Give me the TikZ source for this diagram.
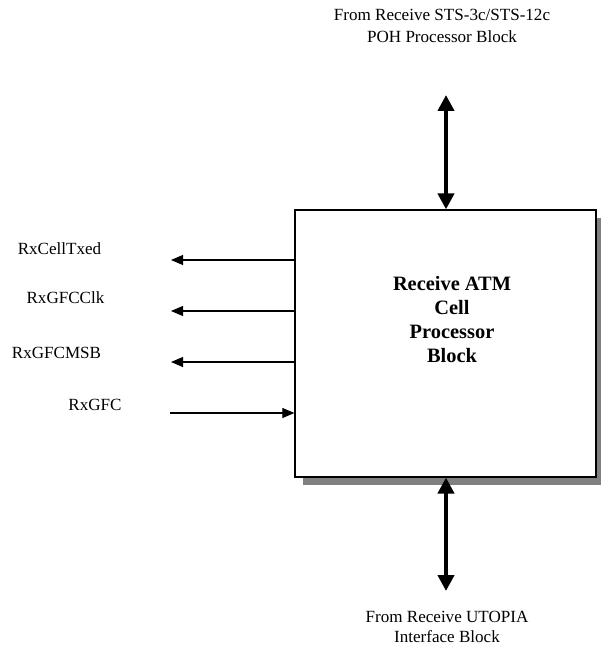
\documentclass[tikz,border=0pt]{standalone}
\usepackage{fontspec}
\setmainfont{Liberation Serif}
\usetikzlibrary{positioning,arrows.meta,shadows}

\begin{document}
\begin{tikzpicture}[x=0.75pt, y=-0.75pt,
        every node/.style={font=\fontsize{12.8}{16.5}\selectfont},
        block/.style={draw, line width=0.9pt, fill=white, minimum width=225.75pt, minimum height=200.25pt,
            drop shadow={shadow xshift=6pt, shadow yshift=-6pt, fill=black!50, opacity=1}},
        title/.style={font=\fontsize{15.3}{18}\selectfont\bfseries, align=center},
        sig/.style={-{Triangle[length=9pt, width=7.5pt]}, line width=0.8pt},
        bus/.style={{Triangle[length=12pt, width=12pt]}-{Triangle[length=12pt, width=12pt]}, line width=3pt}
    ]
    \useasboundingbox (0,0) rectangle (600,645);

    \node[block] (cellproc) at (445.5,343.5) {};
    \node[title] (celltitle) at (452,320) {Receive ATM\\Cell\\Processor\\Block};

    \node[align=center] (poh) at (442,26) {From Receive STS-3c/STS-12c\\POH Processor Block};
    \node[align=center, font=\fontsize{12.8}{15}\selectfont] (utopia) at (447,627) {From Receive UTOPIA\\Interface Block};

    \coordinate (pohend) at (446,95);
    \coordinate (utopiaend) at (446,591);
    \draw[bus] (pohend) -- (pohend |- cellproc.north);
    \draw[bus] (utopiaend |- cellproc.south) -- (utopiaend);

    % signals on the left side
    \node (celltxed) at (59.5,249) {RxCellTxed};
    \node (gfcclk) at (65.5,298) {RxGFCClk};
    \node (gfcmsb) at (56.5,353) {RxGFCMSB};
    \node (gfc) at (95,405) {RxGFC};

    \coordinate (celltxedend) at (171,260);
    \coordinate (gfcclkend) at (171,311);
    \coordinate (gfcmsbend) at (171,362);
    \coordinate (gfcend) at (170,413);

    \draw[sig] (cellproc.west |- celltxedend) -- (celltxedend);
    \draw[sig] (cellproc.west |- gfcclkend) -- (gfcclkend);
    \draw[sig] (cellproc.west |- gfcmsbend) -- (gfcmsbend);
    \draw[sig] (gfcend) -- (cellproc.west |- gfcend);
\end{tikzpicture}
\end{document}
